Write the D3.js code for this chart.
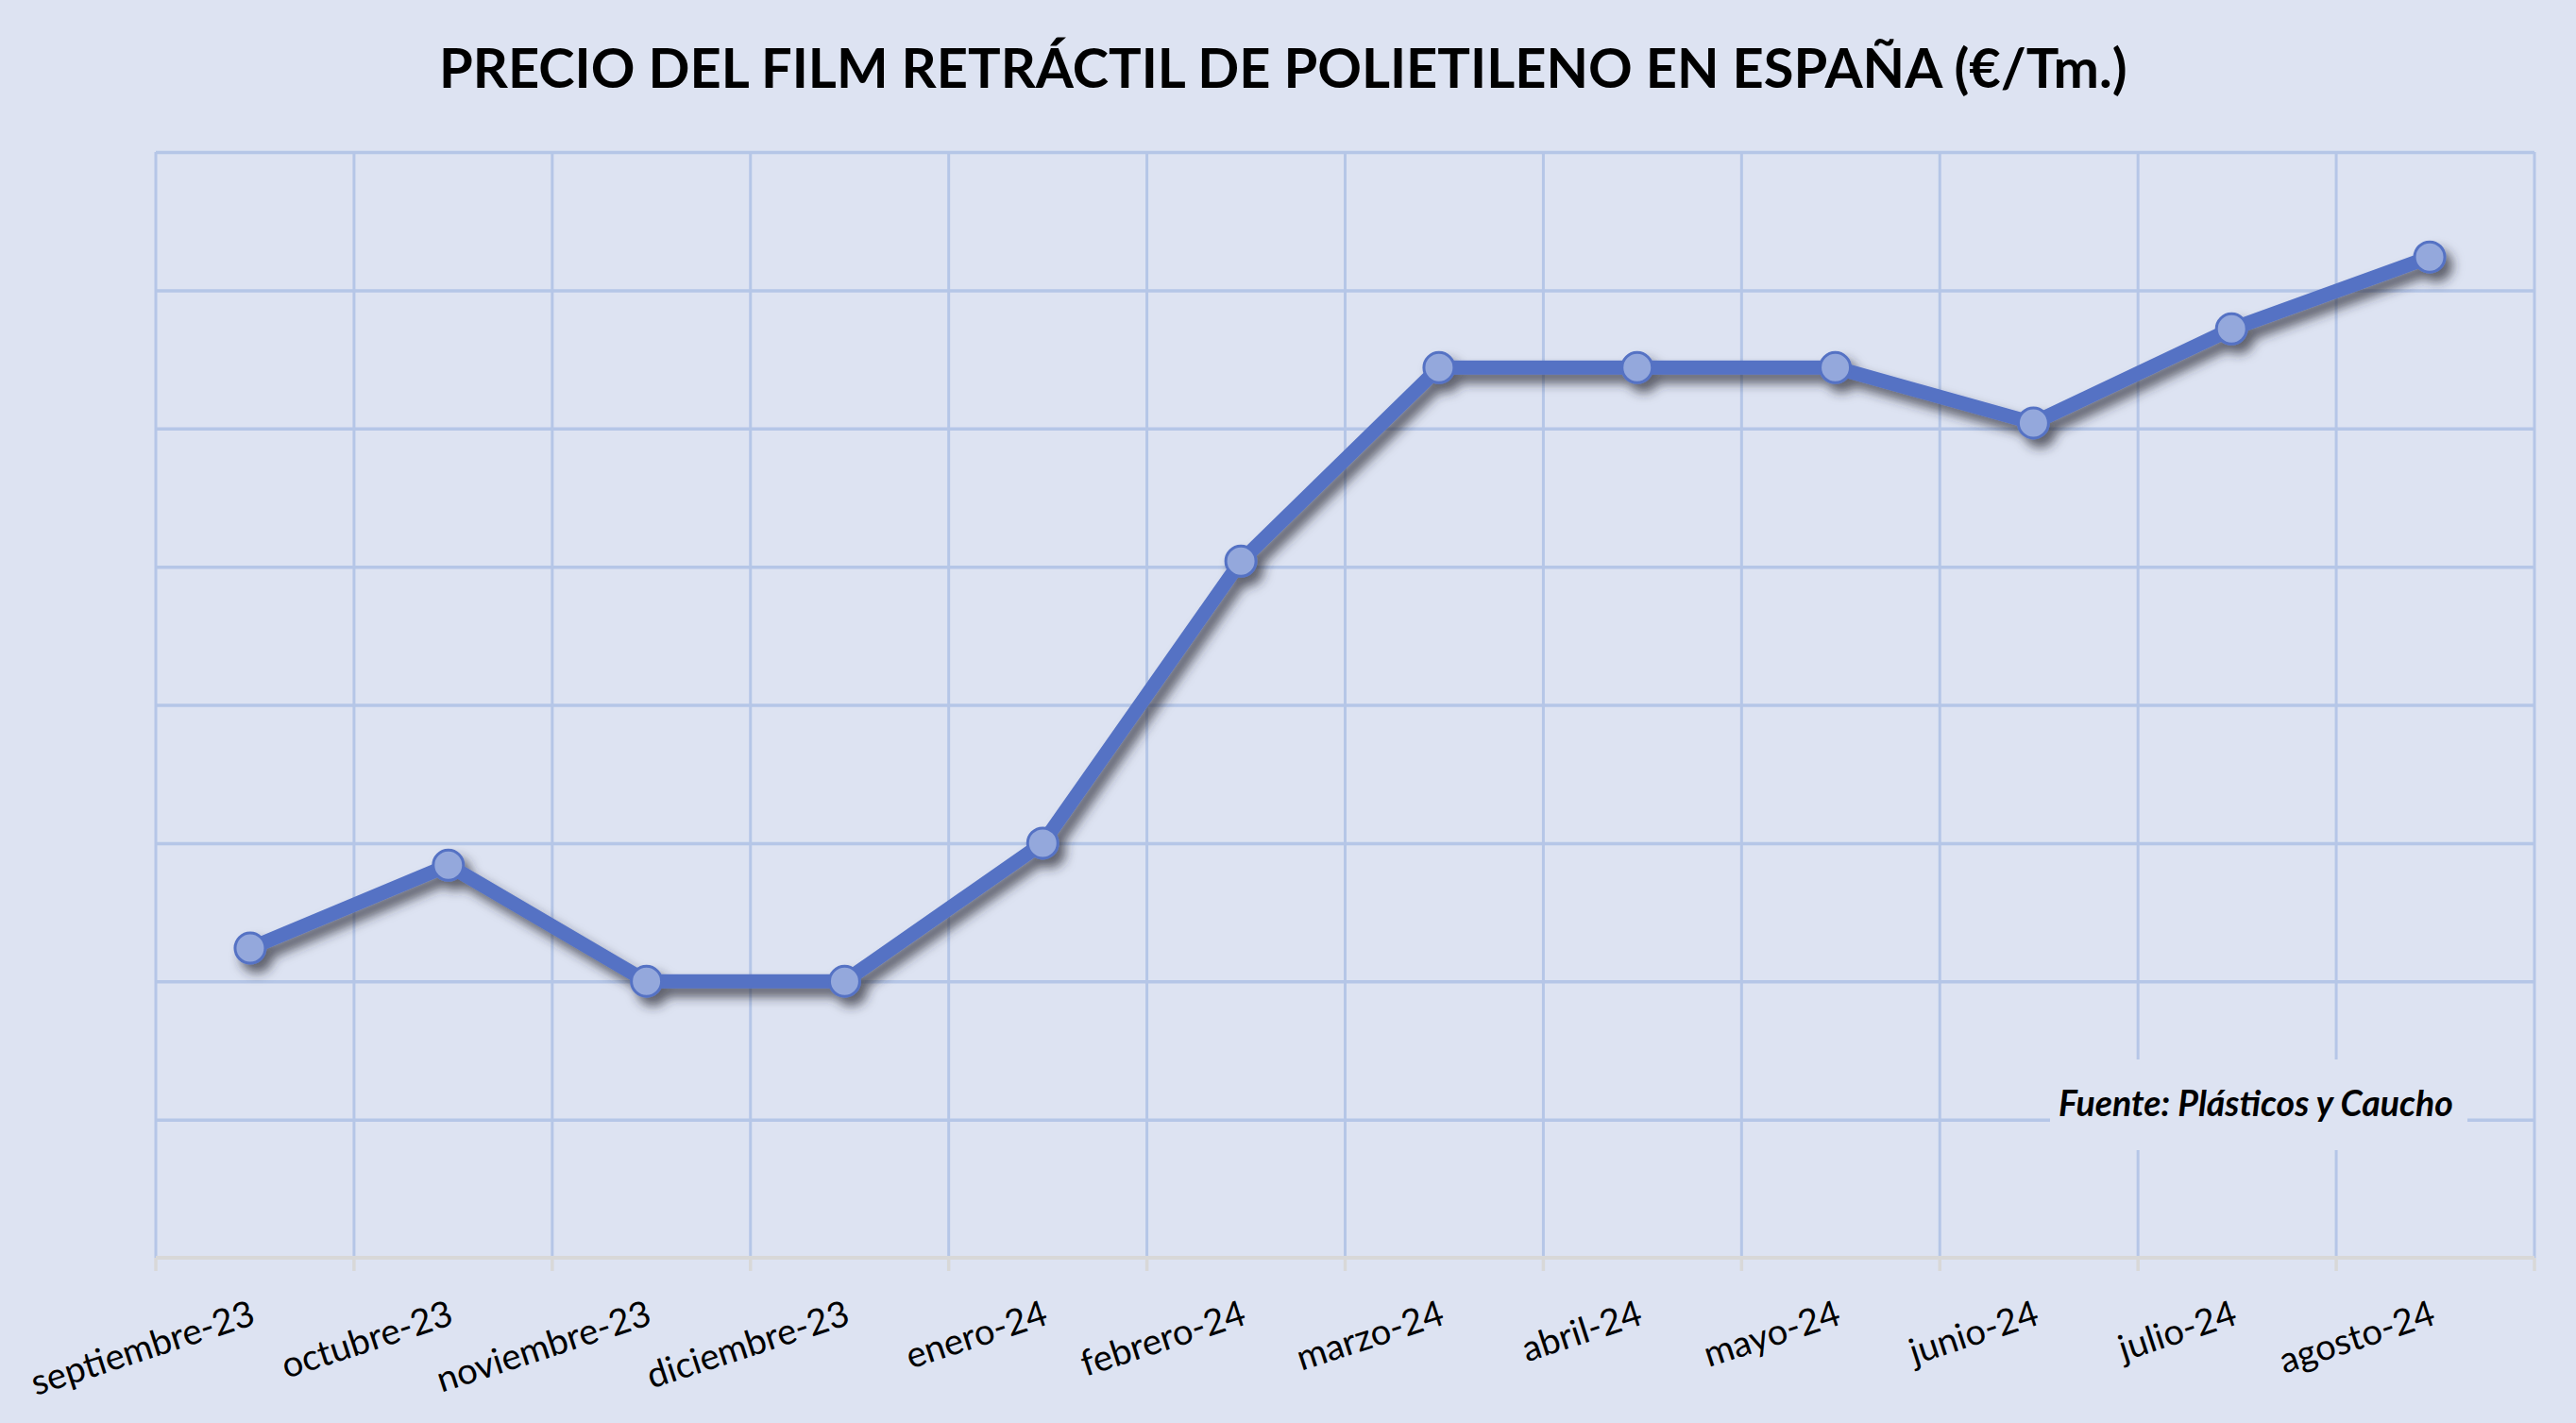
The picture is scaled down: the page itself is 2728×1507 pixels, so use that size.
<!DOCTYPE html>
<html>
<head>
<meta charset="utf-8">
<script src="https://cdn.jsdelivr.net/npm/d3@7"></script>
<style>
  html, body { margin: 0; padding: 0; background: #dde3f2; }
  svg { display: block; }
</style>
</head>
<body>
<svg id="chart" width="2728" height="1507"></svg>
<script>
// data (y axis labels are hidden in the original)
const months = ['septiembre-23', 'octubre-23', 'noviembre-23', 'diciembre-23', 'enero-24', 'febrero-24',
                'marzo-24', 'abril-24', 'mayo-24', 'junio-24', 'julio-24', 'agosto-24'];
const prices = [1412, 1442, 1400, 1400, 1450, 1552, 1622, 1622, 1622, 1602, 1636, 1662];
const yTicks = [1300, 1350, 1400, 1450, 1500, 1550, 1600, 1650, 1700];

const titleText = 'PRECIO DEL FILM RETRÁCTIL DE POLIETILENO EN ESPAÑA (€/Tm.)';
const sourceText = 'Fuente: Plásticos y Caucho';

const svg = d3.select('#chart');
const width = +svg.attr('width');
const height = +svg.attr('height');

const margin = { top: 161, right: 44, bottom: 175, left: 165 };
const innerWidth = width - margin.left - margin.right;
const innerHeight = height - margin.top - margin.bottom;

const bg = '#dde3f2';
const gridColor = '#b5c6e7';
const lineColor = '#5572c4';

const fontFamily = 'Lato, "Open Sans", sans-serif';

svg.append('rect').attr('width', width).attr('height', height).attr('fill', bg);

const defs = svg.append('defs');
defs.append('filter')
    .attr('id', 'shadow')
    .attr('x', '-10%').attr('y', '-10%').attr('width', '130%').attr('height', '130%')
  .append('feDropShadow')
    .attr('dx', 7).attr('dy', 9)
    .attr('stdDeviation', 6)
    .attr('flood-color', '#2b2b35')
    .attr('flood-opacity', 0.7);

const xScale = d3.scaleBand()
    .domain(months)
    .range([0, innerWidth])
    .padding(0);

// the markers sit a touch left of the band centres in the original
const xPoint = d3.scalePoint()
    .domain(months)
    .range([xScale.bandwidth() / 2 - 5, innerWidth - xScale.bandwidth() / 2 - 6]);

const yScale = d3.scaleLinear()
    .domain([yTicks[0], yTicks[yTicks.length - 1]])
    .range([innerHeight, 0]);

const g = svg.append('g')
    .attr('transform', `translate(${margin.left}, ${margin.top})`);

// horizontal grid
const yAxis = d3.axisLeft(yScale)
    .tickValues(yTicks.slice(1))
    .tickSize(-innerWidth)
    .tickFormat('');

const yAxisG = g.append('g').call(yAxis);
yAxisG.select('.domain').remove();
yAxisG.selectAll('.tick line')
    .attr('stroke', gridColor)
    .attr('stroke-width', 3.5);

// vertical grid on band edges
const edges = months.map(m => xScale(m)).concat([innerWidth]);
g.append('g').selectAll('line').data(edges)
  .enter().append('line')
    .attr('x1', d => d).attr('x2', d => d)
    .attr('y1', 0).attr('y2', innerHeight)
    .attr('stroke', gridColor)
    .attr('stroke-width', 3);

// x axis (grey line + ticks between categories)
const xAxisG = g.append('g')
    .attr('transform', `translate(0, ${innerHeight})`);

xAxisG.append('line')
    .attr('x1', 0).attr('x2', innerWidth)
    .attr('stroke', '#d8d8d8')
    .attr('stroke-width', 4);

xAxisG.selectAll('.edge-tick').data(edges)
  .enter().append('line')
    .attr('class', 'edge-tick')
    .attr('x1', d => d).attr('x2', d => d)
    .attr('y1', 0).attr('y2', 14)
    .attr('stroke', '#d8d8d8')
    .attr('stroke-width', 3.5);

const labels = xAxisG.selectAll('.month').data(months)
  .enter().append('text')
    .attr('class', 'month')
    .attr('font-family', fontFamily)
    .attr('font-size', 36)
    .attr('fill', '#000')
    .attr('text-anchor', 'end')
    .attr('transform', d => `translate(${xScale(d) + xScale.bandwidth() / 2 + 2}, 70) rotate(-18)`)
    .text(d => d);

// fit label size to the reference width of the first label
const firstLen = labels.node().getComputedTextLength();
labels.attr('font-size', 36 * 246 / firstLen);

// source note on a background box that hides the grid
const srcBox = { x: 2171 - margin.left, y: 1122 - margin.top, w: 442, h: 96 };
g.append('rect')
    .attr('x', srcBox.x).attr('y', srcBox.y)
    .attr('width', srcBox.w).attr('height', srcBox.h)
    .attr('fill', bg);

const src = g.append('text')
    .attr('x', 2180 - margin.left)
    .attr('y', 1182 - margin.top)
    .attr('font-family', fontFamily)
    .attr('font-weight', 'bold')
    .attr('font-style', 'italic')
    .attr('font-size', 30)
    .attr('fill', '#000')
    .text(sourceText);
src.attr('font-size', 30 * 418 / src.node().getComputedTextLength());

// series
const line = d3.line()
    .x((d, i) => xPoint(months[i]))
    .y(d => yScale(d));

const series = g.append('g').attr('filter', 'url(#shadow)');

series.append('path')
    .datum(prices)
    .attr('fill', 'none')
    .attr('stroke', lineColor)
    .attr('stroke-width', 15)
    .attr('stroke-linejoin', 'round')
    .attr('d', line);

series.selectAll('circle').data(prices)
  .enter().append('circle')
    .attr('cx', (d, i) => xPoint(months[i]))
    .attr('cy', d => yScale(d))
    .attr('r', 16)
    .attr('fill', '#94a8dc')
    .attr('stroke', lineColor)
    .attr('stroke-width', 3);

// title
const title = svg.append('text')
    .attr('x', 465)
    .attr('y', 93)
    .attr('font-family', fontFamily)
    .attr('font-weight', 'bold')
    .attr('font-size', 60)
    .attr('fill', '#000')
    .text(titleText);
title.attr('font-size', 60 * 1788 / title.node().getComputedTextLength());
</script>
</body>
</html>
